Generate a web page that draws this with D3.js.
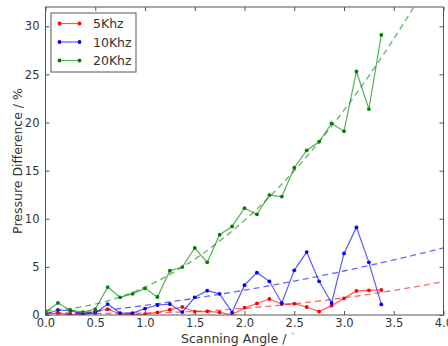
<!DOCTYPE html>
<html>
<head>
<meta charset="utf-8">
<script src="https://cdn.jsdelivr.net/npm/d3@7"></script>
<style>
  body { margin: 0; background: #fff; }
  text { font-family: "DejaVu Sans", sans-serif; }
</style>
</head>
<body>
<div id="plot"></div>
<script>
// scanning angles (deg), one sample every 0.125
const angles = [0, 0.125, 0.25, 0.375, 0.5, 0.625, 0.75, 0.875, 1.0, 1.125, 1.25, 1.375, 1.5, 1.625,
  1.75, 1.875, 2.0, 2.125, 2.25, 2.375, 2.5, 2.625, 2.75, 2.875, 3.0, 3.125, 3.25, 3.375];

const red5k = [0.1, 0.2, 0.1, 0.05, 0.38, 0.62, 0.1, 0.05, 0.1, 0.28, 0.55, 0.83, 0.35, 0.38,
  0.28, 0.02, 0.76, 1.2, 1.66, 1.14, 1.18, 0.83, 0.35, 0.97, 1.73, 2.5, 2.56, 2.6];
const blue10k = [0.08, 0.52, 0.45, 0.1, 0.2, 1.14, 0.2, 0.2, 0.66, 1.04, 1.14, 0.3, 1.84, 2.53,
  2.2, 0.28, 3.1, 4.4, 3.5, 1.25, 4.64, 6.54, 3.5, 1.25, 6.4, 9.1, 5.47, 1.1];
const green20k = [0.28, 1.25, 0.5, 0.3, 0.62, 2.9, 1.84, 2.2, 2.77, 1.87, 4.6, 4.98, 6.96, 5.47,
  8.34, 9.2, 11.1, 10.46, 12.46, 12.3, 15.3, 17.1, 18.0, 19.9, 19.1, 25.3, 21.4, 29.1];

const seriesNames = ["5Khz", "10Khz", "20Khz"];
const seriesColors = ["#ff0000", "#0000ff", "#008000"];
const xTicks = [0, 0.5, 1.0, 1.5, 2.0, 2.5, 3.0, 3.5, 4.0];
const yTicks = [0, 5, 10, 15, 20, 25, 30];

const width = 448, height = 346;
const margin = { top: 7, right: 4.5, bottom: 31, left: 45.5 };

const svg = d3.select("div#plot")
  .append("svg")
  .attr("width", width)
  .attr("height", height);

const x = d3.scaleLinear().domain([0, 4]).range([margin.left, width - margin.right]);
const y = d3.scaleLinear().domain([0, 32]).range([height - margin.bottom, margin.top]);

svg.append("clipPath").attr("id", "clip")
  .append("rect")
  .attr("x", x(0)).attr("y", y(32))
  .attr("width", x(4) - x(0)).attr("height", y(0) - y(32));

// quadratic least squares fit, like a polyfit(deg=2)
function quadFit(xs, ys) {
  let s = [0, 0, 0, 0, 0], t = [0, 0, 0];
  xs.forEach((xi, i) => {
    for (let k = 0; k < 5; k++) s[k] += Math.pow(xi, k);
    for (let k = 0; k < 3; k++) t[k] += ys[i] * Math.pow(xi, k);
  });
  const A = [[s[0], s[1], s[2], t[0]], [s[1], s[2], s[3], t[1]], [s[2], s[3], s[4], t[2]]];
  for (let i = 0; i < 3; i++) {
    for (let j = i + 1; j < 3; j++) {
      const f = A[j][i] / A[i][i];
      for (let k = i; k < 4; k++) A[j][k] -= f * A[i][k];
    }
  }
  const c = [0, 0, 0];
  for (let i = 2; i >= 0; i--) {
    let v = A[i][3];
    for (let k = i + 1; k < 3; k++) v -= A[i][k] * c[k];
    c[i] = v / A[i][i];
  }
  return xv => c[0] + c[1] * xv + c[2] * xv * xv;
}

const allSeries = [red5k, blue10k, green20k];
const line = d3.line().x(d => x(d[0])).y(d => y(d[1]));
const fitXs = d3.range(0, 4.001, 0.05);

const plotG = svg.append("g").attr("clip-path", "url(#clip)");

allSeries.forEach((vals, i) => {
  const pts = angles.map((a, j) => [a, vals[j]]);
  const fit = quadFit(angles, vals);
  plotG.append("path")
    .attr("d", line(fitXs.map(a => [a, fit(a)])))
    .attr("fill", "none")
    .attr("stroke", seriesColors[i])
    .attr("stroke-opacity", 0.6)
    .attr("stroke-width", 1.3)
    .attr("stroke-dasharray", "6,4");
  plotG.append("path")
    .attr("d", line(pts))
    .attr("fill", "none")
    .attr("stroke", seriesColors[i])
    .attr("stroke-opacity", 0.65)
    .attr("stroke-width", 1.2);
  plotG.selectAll(null)
    .data(pts)
    .enter().append("circle")
    .attr("cx", d => x(d[0]))
    .attr("cy", d => y(d[1]))
    .attr("r", 1.9)
    .attr("fill", seriesColors[i]);
});

// frame and ticks (inside, all four sides)
const axisColor = "#555";
svg.append("rect")
  .attr("x", x(0)).attr("y", y(32))
  .attr("width", x(4) - x(0)).attr("height", y(0) - y(32))
  .attr("fill", "none").attr("stroke", axisColor).attr("stroke-width", 1);

const xAxis = d3.axisBottom(x).tickValues(xTicks).tickFormat(d3.format(".1f")).tickSizeInner(-4).tickSizeOuter(0).tickPadding(4);
const xAxisTop = d3.axisTop(x).tickValues(xTicks).tickFormat("").tickSizeInner(-4).tickSizeOuter(0);
const yAxis = d3.axisLeft(y).tickValues(yTicks).tickFormat(d3.format("d")).tickSizeInner(-4).tickSizeOuter(0).tickPadding(6);
const yAxisRight = d3.axisRight(y).tickValues(yTicks).tickFormat("").tickSizeInner(-4).tickSizeOuter(0);

function styleAxis(g) {
  g.select(".domain").remove();
  g.selectAll("line").attr("stroke", axisColor);
  g.selectAll("text").attr("fill", "#333").attr("font-size", 11.5).style("font-family", "DejaVu Sans");
}

svg.append("g").attr("transform", `translate(0,${y(0)})`).call(xAxis).call(styleAxis);
svg.append("g").attr("transform", `translate(0,${y(32)})`).call(xAxisTop).call(styleAxis);
svg.append("g").attr("transform", `translate(${x(0)},0)`).call(yAxis).call(styleAxis);
svg.append("g").attr("transform", `translate(${x(4)},0)`).call(yAxisRight).call(styleAxis);

// axis labels
const xl = svg.append("text")
  .attr("x", 238).attr("y", 343)
  .attr("text-anchor", "middle")
  .attr("font-size", 12.5).attr("fill", "#333");
xl.append("tspan").text("Scanning Angle / ");
xl.append("tspan").text("°").attr("fill", "#bbb").attr("font-size", 9).attr("dy", -4);

svg.append("text")
  .attr("transform", `translate(22,${(y(0) + y(32)) / 2}) rotate(-90)`)
  .attr("text-anchor", "middle")
  .attr("font-size", 12.5).attr("fill", "#333")
  .text("Pressure Difference / %");

// legend
const legend = svg.append("g").attr("transform", "translate(51,13)");
legend.append("rect")
  .attr("width", 85).attr("height", 59)
  .attr("fill", "#fff").attr("stroke", axisColor).attr("stroke-width", 1);
seriesNames.forEach((name, i) => {
  const ly = 10.5 + i * 18.5;
  legend.append("line")
    .attr("x1", 8.5).attr("x2", 28.5).attr("y1", ly).attr("y2", ly)
    .attr("stroke", seriesColors[i]).attr("stroke-opacity", 0.65).attr("stroke-width", 1.2);
  [8.5, 28.5].forEach(cx => legend.append("circle")
    .attr("cx", cx).attr("cy", ly).attr("r", 1.9).attr("fill", seriesColors[i]));
  legend.append("text")
    .attr("x", 42).attr("y", ly + 4.5)
    .attr("font-size", 12.5).attr("fill", "#333")
    .text(name);
});
</script>
</body>
</html>
